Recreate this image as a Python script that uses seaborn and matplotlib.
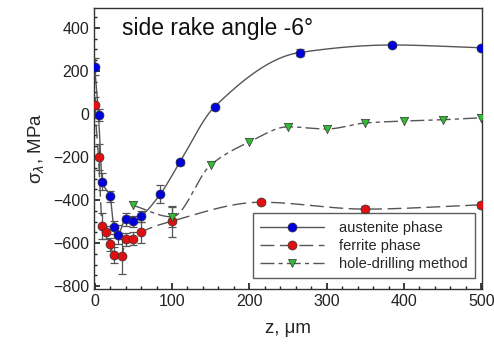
import numpy as np
import pandas as pd
import matplotlib
matplotlib.use("Agg")
import matplotlib.pyplot as plt
from matplotlib.lines import Line2D
from matplotlib.ticker import MultipleLocator
import seaborn as sns

# ---- data ----
aus_z = [0, 5, 10, 20, 25, 30, 40, 50, 60, 85, 110, 155, 265, 385, 500]
aus_s = [220, -5, -315, -383, -527, -560, -490, -498, -475, -372, -225, 33, 285, 320, 307]
aus_e = [40, 30, 40, 25, 30, 45, 30, 25, 25, 42, 10, 10, 15, 10, 10]

fer_z = [0, 5, 10, 15, 20, 25, 35, 40, 50, 60, 100, 215, 350, 500]
fer_s = [40, -200, -522, -550, -605, -655, -662, -582, -580, -550, -498, -410, -442, -422]
fer_e = [40, 60, 60, 30, 30, 35, 80, 30, 30, 50, 72, 10, 15, 15]

hd_z = [50, 100, 150, 200, 250, 300, 350, 400, 450, 500]
hd_s = [-425, -478, -237, -130, -60, -70, -42, -33, -27, -18]
hd_e = [0, 45, 0, 0, 0, 0, 0, 0, 0, 0]

labels = ["austenite phase", "ferrite phase", "hole-drilling method"]
title_text = "side rake angle -6\u00b0"


def pchip(x, y, n=400):
    x = np.asarray(x, float); y = np.asarray(y, float)
    h = np.diff(x); d = np.diff(y) / h
    m = np.zeros_like(y)
    for k in range(1, len(x) - 1):
        if d[k - 1] * d[k] > 0:
            w1 = 2 * h[k] + h[k - 1]; w2 = h[k] + 2 * h[k - 1]
            m[k] = (w1 + w2) / (w1 / d[k - 1] + w2 / d[k])
    m[0] = d[0]; m[-1] = d[-1]
    xs = np.linspace(x[0], x[-1], n)
    idx = np.clip(np.searchsorted(x, xs) - 1, 0, len(h) - 1)
    t = (xs - x[idx]) / h[idx]
    h00 = 2 * t**3 - 3 * t**2 + 1; h10 = t**3 - 2 * t**2 + t
    h01 = -2 * t**3 + 3 * t**2; h11 = t**3 - t**2
    ys = h00 * y[idx] + h10 * h[idx] * m[idx] + h01 * y[idx + 1] + h11 * h[idx] * m[idx + 1]
    return xs, ys


sns.set_theme(style="ticks")
plt.rcParams['font.family'] = ['Liberation Sans', 'DejaVu Sans']

fig = plt.figure(figsize=(4.94, 3.61), dpi=100)
ax = fig.add_axes([0.190, 0.200, 0.786, 0.778])

series = [
    (aus_z, aus_s, aus_e, "#0000dd", "o", None, labels[0], 6.5),
    (fer_z, fer_s, fer_e, "#e01010", "o", (10, 4), labels[1], 6.5),
    (hd_z, hd_s, hd_e, "#33bb33", "v", (10, 3, 3, 3), labels[2], 5.5),
]

handles = []
for z, s, e, col, mk, dash, lab, ms in series:
    xs, ys = pchip(z, s)
    df = pd.DataFrame({"z": xs, "s": ys})
    ax.plot(df["z"], df["s"], color="#555555", lw=1.0, zorder=2,
            linestyle="-" if dash is None else (0, dash))
    e_arr = np.asarray(e, float)
    mask = e_arr > 0
    ax.errorbar(np.asarray(z)[mask], np.asarray(s)[mask], yerr=e_arr[mask], fmt="none",
                ecolor="#555555", elinewidth=0.9, capsize=3, capthick=0.9, zorder=3)
    pts = pd.DataFrame({"z": z, "s": s})
    sns.scatterplot(data=pts, x="z", y="s", ax=ax, color=col, marker=mk,
                    s=42 if mk == "o" else 36, edgecolor="#333333", linewidth=0.5, zorder=4)
    handles.append(Line2D([0], [0], color="#555555", lw=1.0,
                          linestyle="-" if dash is None else (0, dash),
                          marker=mk, markerfacecolor=col, markeredgecolor="#333333",
                          markeredgewidth=0.5, markersize=ms))

ax.set_xlim(-1, 501)
ax.set_ylim(-812, 492)
ax.xaxis.set_major_locator(MultipleLocator(100))
ax.xaxis.set_minor_locator(MultipleLocator(20))
ax.yaxis.set_major_locator(MultipleLocator(200))
ax.yaxis.set_minor_locator(MultipleLocator(50))
ax.tick_params(which="both", direction="in", labelsize=11.5, colors="#222222")
ax.tick_params(which="major", length=4)
ax.tick_params(which="minor", length=2)
for sp in ax.spines.values():
    sp.set_color("#333333"); sp.set_linewidth(1.0)

ax.set_xlabel("z, \u03bcm", fontsize=13.5, labelpad=8)
ax.set_ylabel("\u03c3$_{\\lambda}$, MPa", fontsize=13.5, labelpad=4)
ax.text(0.072, 0.905, title_text, transform=ax.transAxes, fontsize=16.5, color="#111111")

leg = ax.legend(handles, labels, loc="lower right", bbox_to_anchor=(1.0, 0.012),
                fontsize=10.5, frameon=True, fancybox=False, handlelength=4.4,
                borderpad=0.5, labelspacing=0.28, handletextpad=1.0)
leg.get_frame().set_edgecolor("#333333")
leg.get_frame().set_linewidth(1.0)

fig.savefig("out.png", dpi=100)
